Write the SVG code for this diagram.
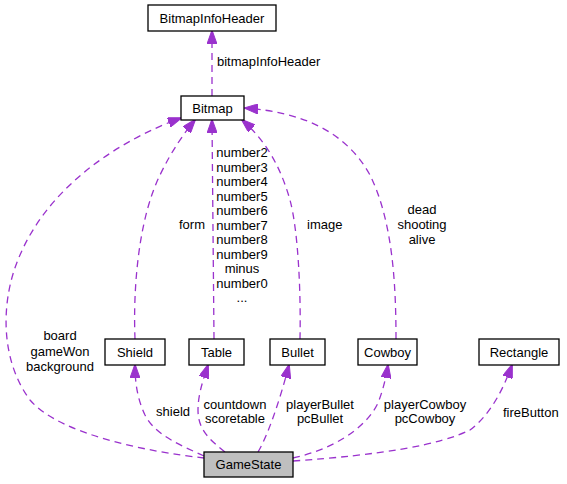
<svg xmlns="http://www.w3.org/2000/svg" width="567" height="484" viewBox="0 0 567 484">
<style>
text{font-family:"Liberation Sans",Arial,sans-serif;font-size:13px;fill:#000}
.n rect{fill:#fff;stroke:#000;stroke-width:1.3}
.n text{text-anchor:middle}
#GameState rect{fill:#bfbfbf}
.e path{fill:none;stroke:#9a32cd;stroke-width:1.3;stroke-dasharray:7,5;marker-end:url(#ah)}
.m{text-anchor:middle}
.s{text-anchor:start}
.r{text-anchor:end}
</style>
<defs>
<marker id="ah" markerUnits="userSpaceOnUse" markerWidth="14" markerHeight="10" viewBox="0 0 14 10" refX="13" refY="5" orient="auto">
<path d="M0,0 L14,5 L0,10 z" fill="#9a32cd" stroke="#9a32cd" stroke-width="1"/>
</marker>
</defs>
<rect width="567" height="484" fill="#fff"/>
<g id="connectors" class="e">
<path d="M212,96 L212,31"/>
<path d="M204,458 C150,452 60,435 30,400 C0,360 0,300 20,255 C50,185 120,140 181,118"/>
<path d="M135,339 C133,290 138,220 160,175 C172,150 185,132 195,120"/>
<path d="M214,339 L212,120"/>
<path d="M300,339 C301,290 298,230 290,200 C280,165 265,140 242,120"/>
<path d="M396,339 C396,280 392,220 370,175 C345,130 300,112 245,108"/>
<path d="M204,456 C180,445 155,435 145,415 C138,400 135,385 135,365"/>
<path d="M225,452 C210,440 198,430 198,410 C198,395 203,380 208,365"/>
<path d="M258,452 C268,435 280,400 289,365"/>
<path d="M293,458 C330,450 365,430 378,403 C383,390 386,378 388,365"/>
<path d="M293,461 C380,455 440,445 470,430 C490,415 503,390 512,365"/>
</g>
<g id="labels">
<text class="s" x="217" y="66">bitmapInfoHeader</text>
<text class="m" x="60" y="340">board</text>
<text class="m" x="60" y="356">gameWon</text>
<text class="m" x="60" y="371">background</text>
<text class="r" x="205" y="229">form</text>
<text class="m" x="242" y="157">number2</text>
<text class="m" x="242" y="171.5">number3</text>
<text class="m" x="242" y="186">number4</text>
<text class="m" x="242" y="200.5">number5</text>
<text class="m" x="242" y="215">number6</text>
<text class="m" x="242" y="229.5">number7</text>
<text class="m" x="242" y="244">number8</text>
<text class="m" x="242" y="258.5">number9</text>
<text class="m" x="242" y="273">minus</text>
<text class="m" x="242" y="287.5">number0</text>
<text class="m" x="242" y="302">...</text>
<text class="s" x="307" y="229">image</text>
<text class="m" x="422" y="214">dead</text>
<text class="m" x="422" y="229">shooting</text>
<text class="m" x="422" y="244">alive</text>
<text class="r" x="190" y="416">shield</text>
<text class="m" x="235" y="409">countdown</text>
<text class="m" x="235" y="423">scoretable</text>
<text class="m" x="320" y="409">playerBullet</text>
<text class="m" x="320" y="423">pcBullet</text>
<text class="m" x="425" y="409">playerCowboy</text>
<text class="m" x="425" y="423">pcCowboy</text>
<text class="s" x="503" y="417">fireButton</text>
</g>
<g id="BitmapInfoHeader" class="n"><rect x="148" y="5" width="128" height="26"/><text x="212" y="22.5">BitmapInfoHeader</text></g>
<g id="Bitmap" class="n"><rect x="181" y="96" width="63" height="24"/><text x="212.5" y="112.5">Bitmap</text></g>
<g id="Shield" class="n"><rect x="105" y="339" width="60" height="26"/><text x="135" y="356.5">Shield</text></g>
<g id="Table" class="n"><rect x="189" y="339" width="55" height="26"/><text x="216.5" y="356.5">Table</text></g>
<g id="Bullet" class="n"><rect x="270" y="339" width="55" height="26"/><text x="297.5" y="356.5">Bullet</text></g>
<g id="Cowboy" class="n"><rect x="358" y="339" width="59" height="26"/><text x="387.5" y="356.5">Cowboy</text></g>
<g id="Rectangle" class="n"><rect x="479" y="339" width="80" height="26"/><text x="519" y="356.5">Rectangle</text></g>
<g id="GameState" class="n"><rect x="204" y="452" width="89" height="25"/><text x="248.5" y="469">GameState</text></g>
</svg>
